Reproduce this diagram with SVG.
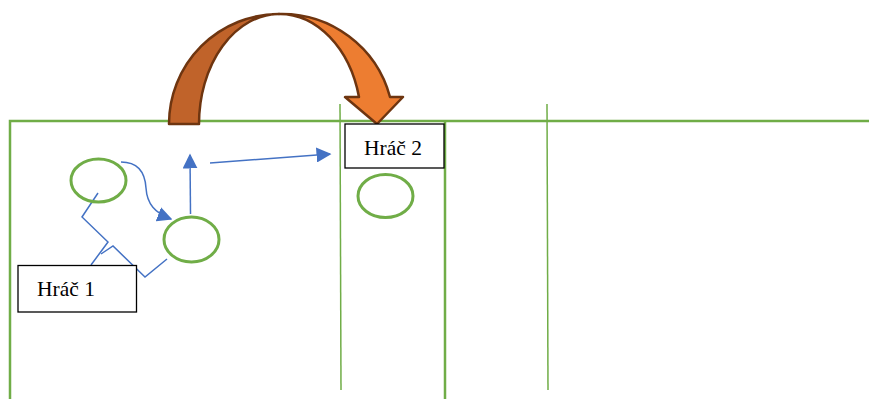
<svg xmlns="http://www.w3.org/2000/svg" width="869" height="399" viewBox="0 0 869 399">
<style>
.field{stroke:#70AD47;stroke-width:2.5;fill:none}
.thin{stroke:#70AD47;stroke-width:1.5;fill:none}
.player{fill:none;stroke:#70AD47;stroke-width:3}
.box{fill:#fff;stroke:#000;stroke-width:1.3}
.lbl{font-family:"Liberation Serif","Times New Roman",serif;font-size:21.5px;fill:#000}
.conn{fill:none;stroke:#4472C4;stroke-width:1.5}
.arr{stroke:#6E3510;stroke-width:2.5;stroke-linejoin:round}
</style>
<defs>
<marker id="ahL" viewBox="0 0 10 10" refX="9" refY="5" markerWidth="15" markerHeight="15" markerUnits="userSpaceOnUse" orient="auto">
<path d="M0,0 L10,5 L0,10 Z" fill="#4472C4"/>
</marker>
</defs>
<g id="field">
<path class="field" d="M10,399 V121 H869"/>
<line class="field" x1="445" y1="121" x2="445" y2="399"/>
<line class="thin" x1="340" y1="104" x2="341" y2="390"/>
<line class="thin" x1="547" y1="104" x2="548" y2="390"/>
</g>
<g id="curved-arrow">
<path class="arr" fill="#C0632A" d="M169,124 A110,110 0 0 1 279,14 A80,110 0 0 0 199,124 Z"/>
<path class="arr" fill="#ED7D31" d="M279,14 A112,112 0 0 1 390,97 L403,97 L377,124 L345,97 L359,97 A82,110 0 0 0 279,14 Z"/>
</g>
<g id="connectors">
<path class="conn" d="M121,162 C138,162 145,172 146,188 C147,204 155,213 171,219" marker-end="url(#ahL)"/>
<line class="conn" x1="190.5" y1="214" x2="190" y2="155" marker-end="url(#ahL)"/>
<line class="conn" x1="210" y1="163" x2="330" y2="154" marker-end="url(#ahL)"/>
<path class="conn" d="M98,193 L82,217 L108,242 L91,265"/>
<path class="conn" d="M101,254 L113,246 L145,277 L167,259"/>
</g>
<g id="player-a"><ellipse class="player" cx="98.5" cy="180.5" rx="27.5" ry="21.5"/></g>
<g id="player-b"><ellipse class="player" cx="191.5" cy="239.5" rx="27.5" ry="22.5"/></g>
<g id="player-c"><ellipse class="player" cx="385.5" cy="196" rx="27.5" ry="21.5"/></g>
<g id="hrac1">
<rect class="box" x="18" y="265.5" width="118.5" height="46.5"/>
<text class="lbl" x="37" y="296">Hráč 1</text>
</g>
<g id="hrac2">
<rect class="box" x="345" y="124" width="99" height="44"/>
<text class="lbl" x="364" y="155">Hráč 2</text>
</g>
</svg>
